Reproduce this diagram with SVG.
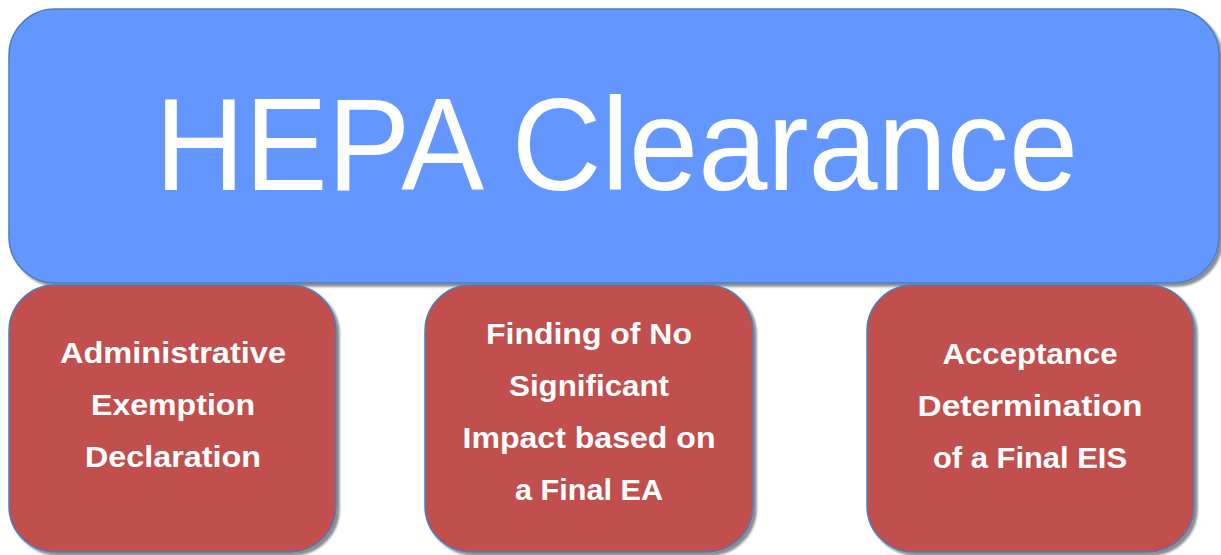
<svg xmlns="http://www.w3.org/2000/svg" width="1221" height="555" viewBox="0 0 1221 555">
  <style>
    .title { fill: #6397FF; stroke: #4A7EBB; stroke-width: 1.5; }
    .box { fill: #C0504D; stroke: #4A7EBB; stroke-width: 1.5; }
    .ttl { font-family: "Liberation Sans", Arial, sans-serif; font-size: 132px; fill: #FFFFFF; }
    .lbl { font-family: "Liberation Sans", Arial, sans-serif; font-size: 30px; font-weight: bold; fill: #FFFFFF; text-anchor: middle; }
  </style>
  <defs>
    <filter id="sh" x="-5%" y="-5%" width="110%" height="115%">
      <feDropShadow dx="3" dy="3" stdDeviation="1" flood-color="#000000" flood-opacity="0.45"/>
    </filter>
  </defs>
  <rect width="1221" height="555" fill="#FFFFFF"/>
  <g id="hepa-clearance">
    <rect class="title" x="9" y="9" width="1210" height="274" rx="46" ry="46" filter="url(#sh)"/>
    <text class="ttl" x="155" y="190" textLength="923" lengthAdjust="spacingAndGlyphs">HEPA Clearance</text>
  </g>
  <g id="connectors"/>
  <g id="admin-exemption">
    <rect class="box" x="9" y="285" width="327" height="267" rx="46" ry="46" filter="url(#sh)"/>
    <text class="lbl" x="173" y="363" textLength="226" lengthAdjust="spacingAndGlyphs">Administrative</text>
    <text class="lbl" x="173" y="415" textLength="164" lengthAdjust="spacingAndGlyphs">Exemption</text>
    <text class="lbl" x="173" y="467" textLength="176" lengthAdjust="spacingAndGlyphs">Declaration</text>
  </g>
  <g id="fonsi">
    <rect class="box" x="425" y="285" width="328" height="267" rx="46" ry="46" filter="url(#sh)"/>
    <text class="lbl" x="589" y="344" textLength="206" lengthAdjust="spacingAndGlyphs">Finding of No</text>
    <text class="lbl" x="589" y="396" textLength="160" lengthAdjust="spacingAndGlyphs">Significant</text>
    <text class="lbl" x="589" y="448" textLength="253" lengthAdjust="spacingAndGlyphs">Impact based on</text>
    <text class="lbl" x="589" y="500" textLength="148" lengthAdjust="spacingAndGlyphs">a Final EA</text>
  </g>
  <g id="acceptance">
    <rect class="box" x="867" y="285" width="327" height="267" rx="46" ry="46" filter="url(#sh)"/>
    <text class="lbl" x="1030" y="364" textLength="175" lengthAdjust="spacingAndGlyphs">Acceptance</text>
    <text class="lbl" x="1030" y="416" textLength="225" lengthAdjust="spacingAndGlyphs">Determination</text>
    <text class="lbl" x="1030" y="468" textLength="194" lengthAdjust="spacingAndGlyphs">of a Final EIS</text>
  </g>
</svg>
